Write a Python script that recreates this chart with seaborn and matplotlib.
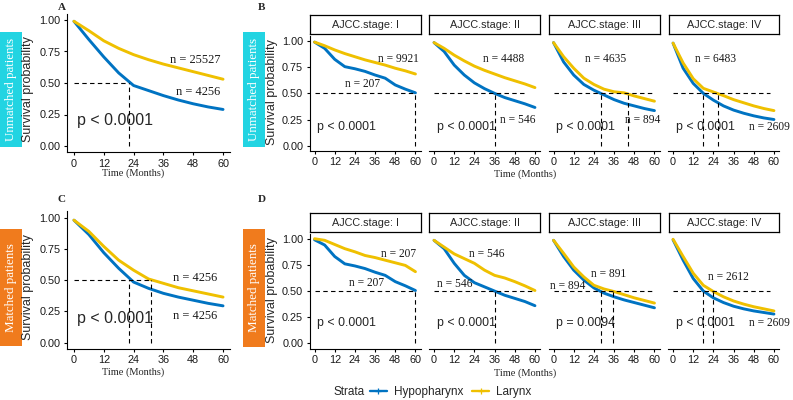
import pandas as pd
import seaborn as sns
import matplotlib.pyplot as plt
from matplotlib.lines import Line2D
from matplotlib.patches import Rectangle

# ---- data ----
months = [0, 6, 12, 18, 24, 30, 36, 42, 48, 54, 60]
strata = ['Hypopharynx', 'Larynx']
stages = ['I', 'II', 'III', 'IV']

# A: unmatched, all stages
hypo_a = [0.99, 0.845, 0.707, 0.58, 0.48, 0.44, 0.40, 0.365, 0.335, 0.31, 0.29]
lar_a = [0.99, 0.915, 0.835, 0.775, 0.725, 0.685, 0.65, 0.62, 0.59, 0.56, 0.53]
n_a = [4256, 25527]
med_a = [22, None]

# C: matched, all stages
hypo_c = [0.98, 0.865, 0.72, 0.595, 0.485, 0.435, 0.395, 0.365, 0.34, 0.315, 0.295]
lar_c = [0.98, 0.89, 0.77, 0.66, 0.58, 0.51, 0.475, 0.44, 0.415, 0.39, 0.365]
n_c = [4256, 4256]
med_c = [22, 31]

# B: unmatched, by AJCC stage
hypo_b = [
    [0.99, 0.93, 0.825, 0.755, 0.735, 0.71, 0.675, 0.645, 0.58, 0.54, 0.505],
    [0.985, 0.90, 0.77, 0.675, 0.60, 0.545, 0.50, 0.46, 0.43, 0.40, 0.365],
    [0.985, 0.80, 0.675, 0.585, 0.53, 0.485, 0.44, 0.405, 0.38, 0.355, 0.335],
    [0.98, 0.74, 0.595, 0.50, 0.435, 0.38, 0.34, 0.31, 0.285, 0.265, 0.25],
]
lar_b = [
    [0.99, 0.955, 0.915, 0.88, 0.85, 0.82, 0.795, 0.77, 0.74, 0.715, 0.685],
    [0.985, 0.93, 0.865, 0.81, 0.76, 0.72, 0.685, 0.65, 0.62, 0.59, 0.555],
    [0.985, 0.85, 0.74, 0.645, 0.585, 0.54, 0.515, 0.505, 0.475, 0.45, 0.425],
    [0.98, 0.79, 0.64, 0.548, 0.513, 0.478, 0.44, 0.41, 0.38, 0.355, 0.335],
]
n_hypo_b = [207, 546, 894, 2609]
n_lar_b = [9921, 4488, 4635, 6483]
med_hypo_b = [59.5, 36, 28, 18]
med_lar_b = [None, None, 44, 26.6]
p_b = ['p < 0.0001', 'p < 0.0001', 'p < 0.0001', 'p < 0.0001']

# D: matched, by AJCC stage
hypo_d = [
    [0.99, 0.94, 0.83, 0.76, 0.74, 0.715, 0.68, 0.65, 0.59, 0.55, 0.505],
    [0.985, 0.905, 0.765, 0.65, 0.58, 0.54, 0.50, 0.46, 0.43, 0.40, 0.36],
    [0.985, 0.83, 0.70, 0.605, 0.53, 0.48, 0.445, 0.415, 0.39, 0.365, 0.34],
    [0.99, 0.795, 0.62, 0.50, 0.435, 0.39, 0.355, 0.33, 0.31, 0.295, 0.28],
]
lar_d = [
    [1.0, 0.985, 0.945, 0.905, 0.875, 0.84, 0.82, 0.795, 0.77, 0.745, 0.685],
    [0.985, 0.92, 0.855, 0.81, 0.765, 0.70, 0.65, 0.625, 0.59, 0.55, 0.505],
    [0.985, 0.86, 0.73, 0.635, 0.555, 0.52, 0.495, 0.465, 0.435, 0.41, 0.385],
    [0.995, 0.83, 0.67, 0.555, 0.495, 0.445, 0.405, 0.375, 0.35, 0.33, 0.31],
]
n_hypo_d = [207, 546, 894, 2609]
n_lar_d = [207, 546, 891, 2612]
med_hypo_d = [59.5, 36, 28, 18]
med_lar_d = [None, None, 35.4, 23.7]
p_d = ['p < 0.0001', 'p < 0.0001', 'p = 0.0094', 'p < 0.0001']

# ---- layout (label spots in data units) ----
hline_end_b = [60, 55, 60, 57.5]
hline_end_d = [60, 60, 60, 57.5]
pos_lar_b = [(49.8, 0.825), (41.5, 0.83), (31.1, 0.825), (25.3, 0.83)]
pos_hypo_b = [(28.7, 0.586), (49.7, 0.25), (52.8, 0.25), (57.4, 0.18)]
pos_lar_d = [(49.8, 0.85), (31.2, 0.85), (32.7, 0.66), (32.8, 0.63)]
pos_hypo_d = [(31.1, 0.58), (12.1, 0.57), (8.5, 0.55), (57.4, 0.19)]

palette = {'Hypopharynx': '#0073C2', 'Larynx': '#EFC000'}
SANS = ['Liberation Sans', 'DejaVu Sans']
SERIF = ['Liberation Serif', 'DejaVu Serif']

sns.set_style('ticks')
plt.rcParams['font.family'] = SANS

W, H = 793, 400
fig = plt.figure(figsize=(7.93, 4.0), dpi=100)


def px_box(x0, y0, x1, y1):
    # pixel rectangle (top-left origin) -> figure fraction rect
    return [x0 / W, 1 - y1 / H, (x1 - x0) / W, (y1 - y0) / H]


def km(ax, hypo, lar, meds, h_end, show_y=True):
    df = pd.DataFrame({'time': months * 2, 'surv': hypo + lar,
                       'strata': ['Hypopharynx'] * len(months) + ['Larynx'] * len(months)})
    ax.hlines(0.5, 0, h_end, colors='black', linestyles=(0, (4, 3)), lw=0.8, zorder=4)
    for m in meds:
        if m is not None:
            ax.vlines(m, 0, 0.5, colors='black', linestyles=(0, (4, 3)), lw=0.8, zorder=4)
    sns.lineplot(data=df, x='time', y='surv', hue='strata', palette=palette,
                 lw=2.1, legend=False, ax=ax, zorder=3)
    ax.set_xlim(-3, 63)
    ax.set_ylim(-0.05, 1.05)
    ax.set_xticks(range(0, 61, 12))
    ax.set_yticks([0, 0.25, 0.5, 0.75, 1.0])
    ax.set_yticklabels(['0.00', '0.25', '0.50', '0.75', '1.00'])
    ax.set_xlabel('')
    ax.set_ylabel('')
    ax.tick_params(length=2.5, width=0.8, labelsize=7.8, pad=2, color='black', labelcolor='#1a1a1a')
    sns.despine(ax=ax, left=not show_y)
    for s in ('left', 'bottom'):
        ax.spines[s].set_color('black')
        ax.spines[s].set_linewidth(0.8)
    if not show_y:
        ax.tick_params(axis='y', left=False, labelleft=False)


def serif(ax, x, y, s, size):
    ax.text(x, y, s, ha='center', va='center', fontsize=size, family=SERIF,
            color='#1a1a1a', clip_on=False, zorder=5)


# panel A
ax_a = fig.add_axes(px_box(66.5, 13.7, 230.5, 152.3))
km(ax_a, hypo_a, lar_a, med_a, 22)
serif(ax_a, 48.9, 0.685, f'n = {n_a[1]}', 8.9)
serif(ax_a, 49.9, 0.427, f'n = {n_a[0]}', 8.9)
ax_a.text(1.3, 0.20, 'p < 0.0001', fontsize=11.5, va='center', ha='left')

# panel C
ax_c = fig.add_axes(px_box(66.5, 211.4, 230.5, 349))
km(ax_c, hypo_c, lar_c, med_c, 31)
serif(ax_c, 48.9, 0.515, f'n = {n_c[1]}', 8.9)
serif(ax_c, 48.9, 0.216, f'n = {n_c[0]}', 8.9)
ax_c.text(1.3, 0.195, 'p < 0.0001', fontsize=11.5, va='center', ha='left')

# facet rows B and D
lefts = [309.5, 429, 548.5, 668]
rows = [
    (35.8, 150.9, 15, 34, hypo_b, lar_b, med_hypo_b, med_lar_b, hline_end_b,
     n_hypo_b, n_lar_b, pos_hypo_b, pos_lar_b, p_b, 0.18),
    (233.5, 348.6, 213, 232, hypo_d, lar_d, med_hypo_d, med_lar_d, hline_end_d,
     n_hypo_d, n_lar_d, pos_hypo_d, pos_lar_d, p_d, 0.19),
]
for (top, bot, stop, sbot, hypo, lar, mh, ml, hend, nh, nl, ph, pl, pv, py) in rows:
    for i, st in enumerate(stages):
        x0 = lefts[i]
        ax = fig.add_axes(px_box(x0, top, x0 + 111, bot))
        km(ax, hypo[i], lar[i], [mh[i], ml[i]], hend[i], show_y=(i == 0))
        serif(ax, pl[i][0], pl[i][1], f'n = {nl[i]}', 8.3)
        serif(ax, ph[i][0], ph[i][1], f'n = {nh[i]}', 8.3)
        ax.text(1.5, py, pv[i], fontsize=8.9, va='center', ha='left')
        sax = fig.add_axes(px_box(x0 + 0.5, stop, x0 + 111, sbot))
        sax.set_xticks([])
        sax.set_yticks([])
        for s in sax.spines.values():
            s.set_color('black')
            s.set_linewidth(0.9)
        sax.text(0.5, 0.47, f'AJCC.stage: {st}', ha='center', va='center',
                 fontsize=7.8, transform=sax.transAxes)

# axis titles
for (x, y) in [(28, 89), (272, 92), (28, 287), (272, 290)]:
    fig.text(x / W, 1 - y / H, 'Survival probability', rotation=90,
             ha='center', va='center', fontsize=9)
for (x, y) in [(133, 173), (525, 174), (133, 372), (525, 373)]:
    fig.text(x / W, 1 - y / H, 'Time (Months)', ha='center', va='center',
             fontsize=7.5, family=SERIF)
for (x, y, s) in [(62, 7, 'A'), (262, 7, 'B'), (62, 199, 'C'), (262, 199, 'D')]:
    fig.text(x / W, 1 - y / H, s, ha='center', va='center', fontsize=8,
             fontweight='bold', family=SERIF)

# row labels
for (x0, y0, x1, y1, col, lab) in [
        (0, 32, 22, 147, '#22D4E2', 'Unmatched patients'),
        (243, 32, 265, 147, '#22D4E2', 'Unmatched patients'),
        (0, 229, 22, 346, '#F07B1D', 'Matched patients'),
        (243, 229, 265, 347, '#F07B1D', 'Matched patients')]:
    r = px_box(x0, y0, x1, y1)
    fig.add_artist(Rectangle((r[0], r[1]), r[2], r[3], transform=fig.transFigure,
                             facecolor=col, edgecolor='none'))
    fig.text((x0 + x1) / 2 / W, 1 - (y0 + y1) / 2 / H, lab, rotation=90,
             ha='center', va='center', color='white', fontsize=9.4, family=SERIF)

# legend
handles = [Line2D([], [], color=palette[s], lw=1.7, marker='+', ms=5, mew=0.9) for s in strata]
fig.text(334 / W, 1 - 392 / H, 'Strata', ha='left', va='center', fontsize=8.5)
fig.legend(handles, strata, loc='center left', bbox_to_anchor=(370 / W, 1 - 392 / H),
           ncol=2, frameon=False, fontsize=8.5, handlelength=1.4, handletextpad=0.6,
           columnspacing=0.8, borderpad=0, borderaxespad=0)

fig.savefig('out.png', dpi=100)
